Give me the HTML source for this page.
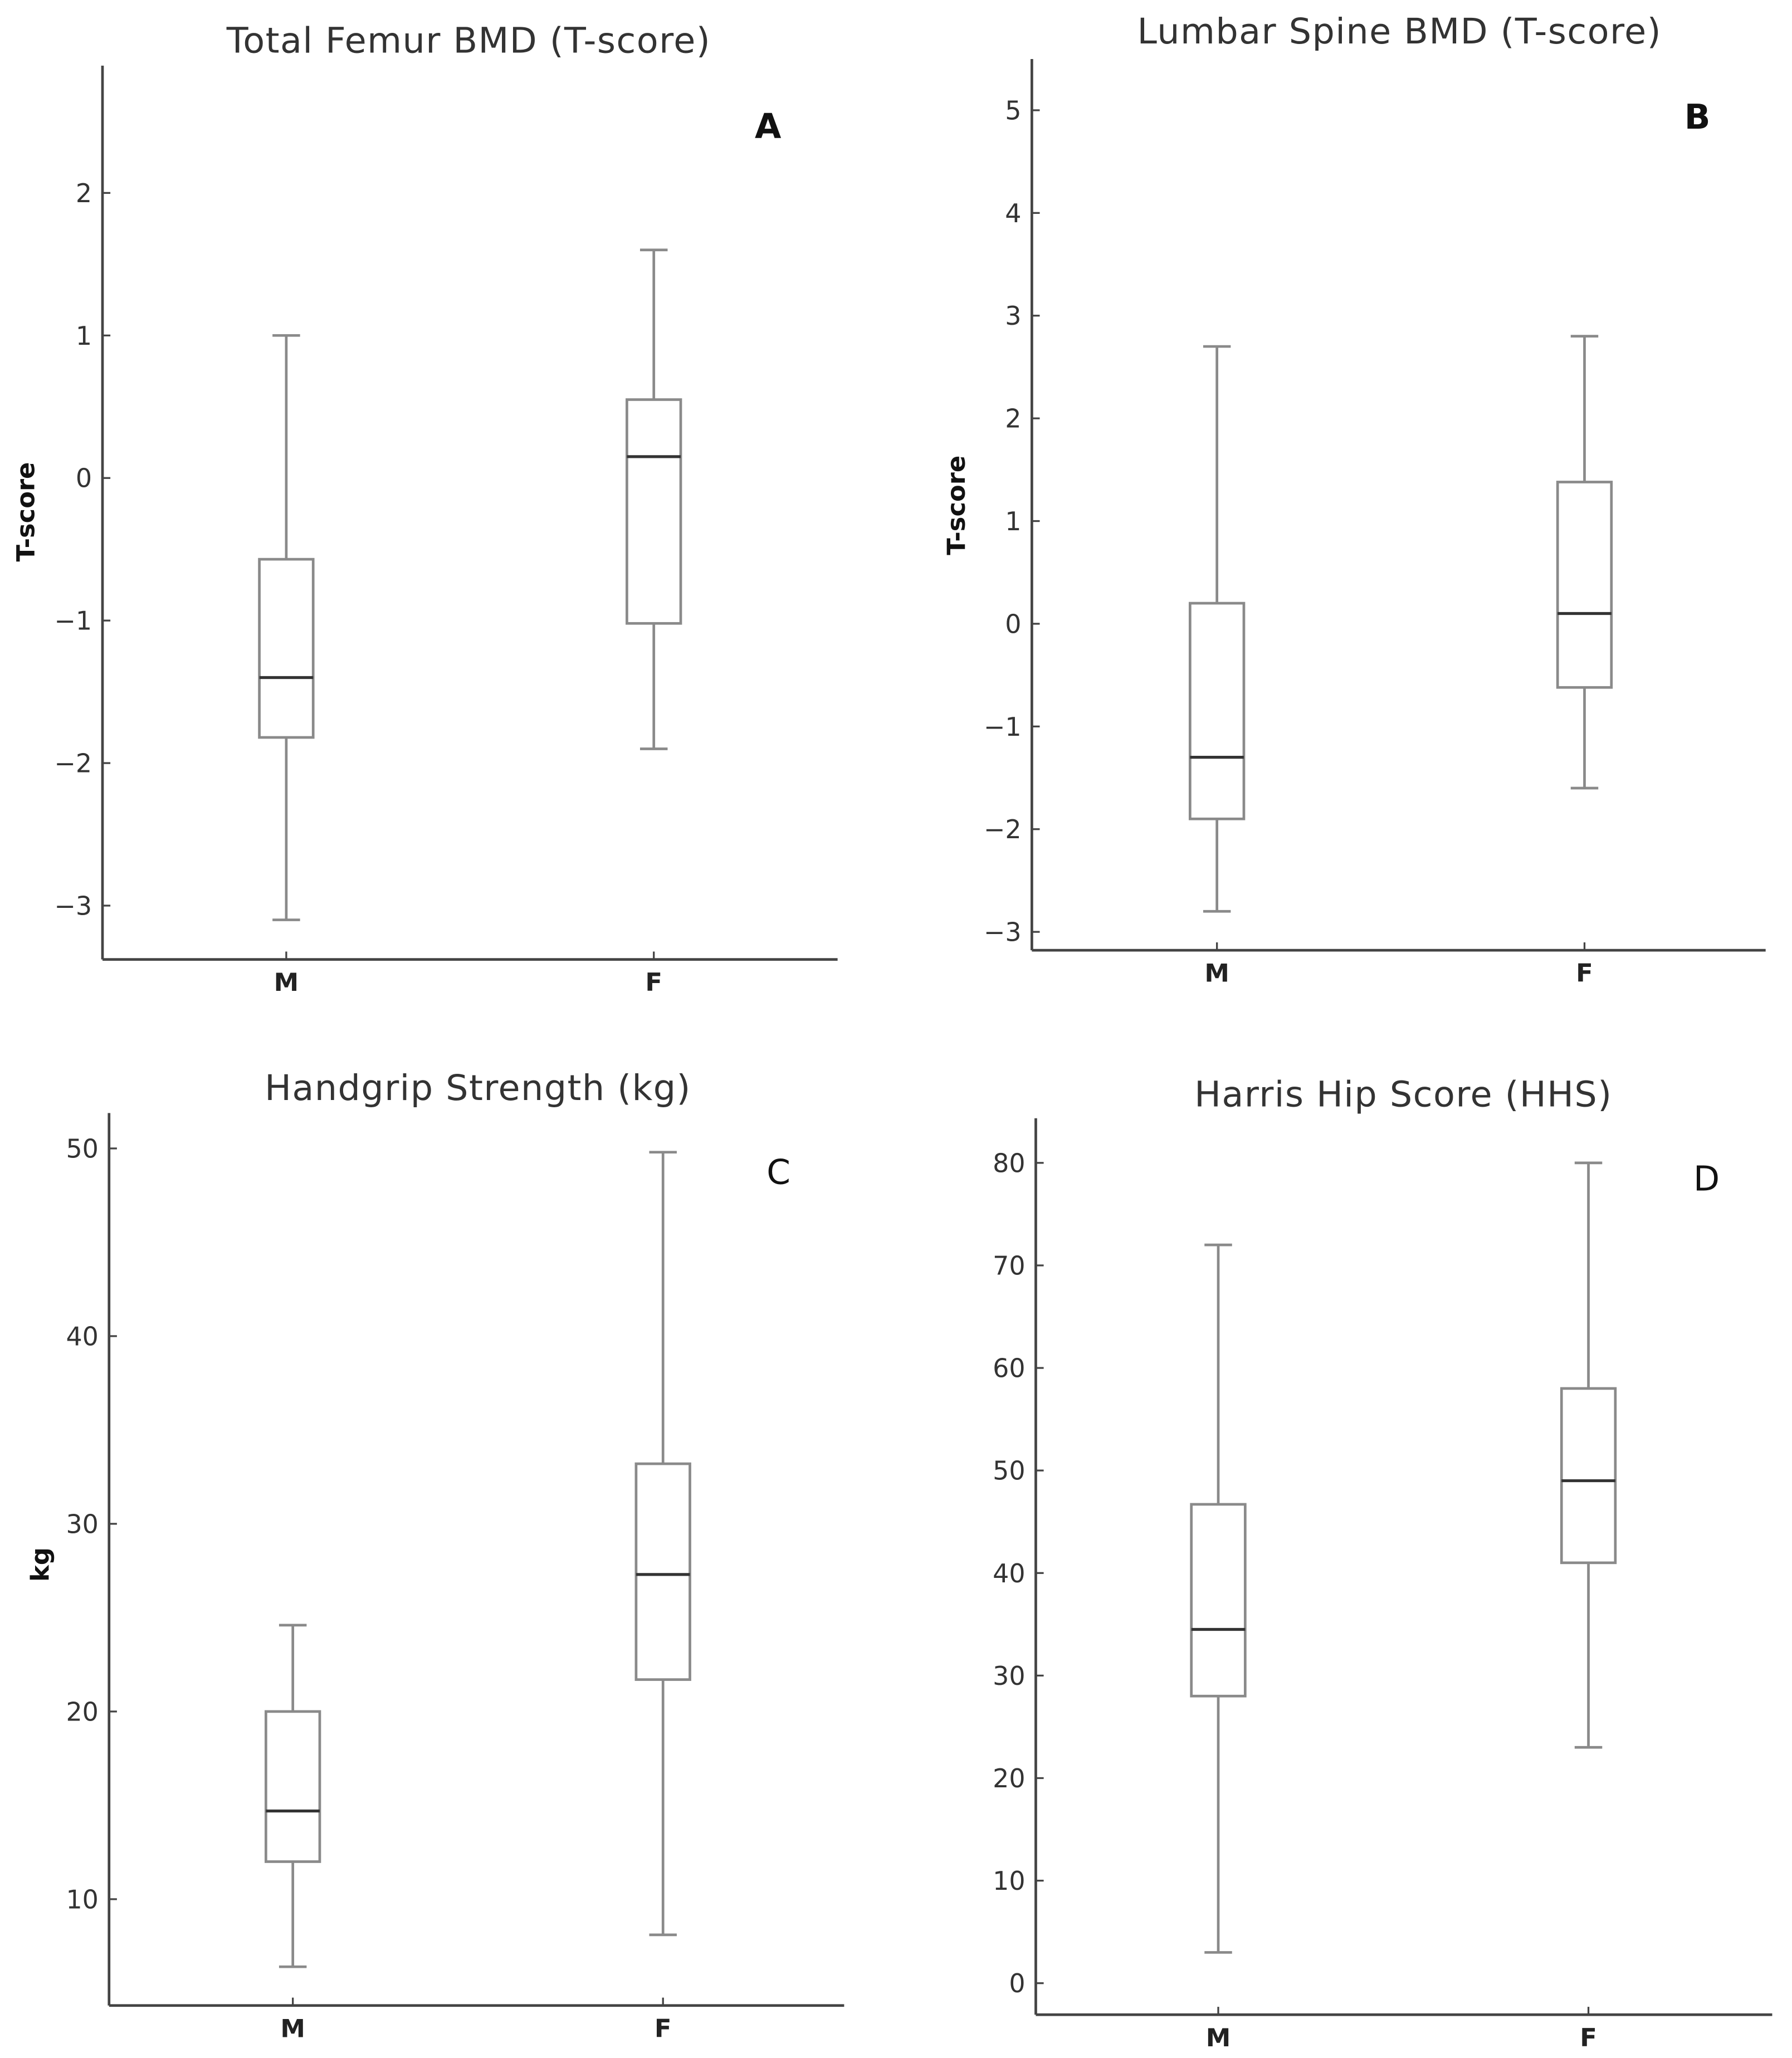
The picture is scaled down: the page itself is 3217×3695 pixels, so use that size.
<!DOCTYPE html>
<html><head><meta charset="utf-8"><style>
html,body{margin:0;padding:0;background:#fff;}
svg{display:block;font-family:"DejaVu Sans","Liberation Sans",sans-serif;}
</style></head><body>
<svg id="fig" width="3217" height="3695" viewBox="0 0 1365 1568" xmlns="http://www.w3.org/2000/svg"></svg>
<script>
const categories = ["M", "F"];
// Panel A: Total Femur BMD
const aTicks = [-3, -2, -1, 0, 1, 2];
const aMin = [-3.1, -1.9], aQ1 = [-1.82, -1.02], aMed = [-1.4, 0.15], aQ3 = [-0.57, 0.55], aMax = [1.0, 1.6];
// Panel B: Lumbar Spine BMD
const bTicks = [-3, -2, -1, 0, 1, 2, 3, 4, 5];
const bMin = [-2.8, -1.6], bQ1 = [-1.9, -0.62], bMed = [-1.3, 0.1], bQ3 = [0.2, 1.38], bMax = [2.7, 2.8];
// Panel C: Handgrip Strength
const cTicks = [10, 20, 30, 40, 50];
const cMin = [6.4, 8.1], cQ1 = [12, 21.7], cMed = [14.7, 27.3], cQ3 = [20, 33.2], cMax = [24.6, 49.8];
// Panel D: Harris Hip Score
const dTicks = [0, 10, 20, 30, 40, 50, 60, 70, 80];
const dMin = [3, 23], dQ1 = [28, 41], dMed = [34.5, 49], dQ3 = [46.7, 58], dMax = [72, 80];

const NS = "http://www.w3.org/2000/svg";
const svg = document.getElementById('fig');
function mk(tag, attrs, parent, text) {
  const e = document.createElementNS(NS, tag);
  for (const k in attrs) e.setAttribute(k, attrs[k]);
  if (text !== undefined) e.textContent = text;
  parent.appendChild(e);
  return e;
}

function panel(cfg) {
  const g = mk('g', {}, svg);
  
  
  const y = v => cfg.y0px + (v - cfg.v0) * (cfg.y1px - cfg.y0px) / (cfg.v1 - cfg.v0);
  const x = i => cfg.cx[i];
  const ax = '#444', bx = '#8a8a8a', md = '#333', tx = '#333';
  const yAx = mk('line', {x1: cfg.ax, y1: cfg.top, x2: cfg.ax, y2: cfg.bot, stroke: ax, 'stroke-width': 2}, g);
  
  
  const xAx = mk('line', {x1: cfg.ax, y1: cfg.bot, x2: cfg.right, y2: cfg.bot, stroke: ax, 'stroke-width': 2}, g);
  
  
  cfg.ticks.forEach(t => {
    const yy = y(t);
    mk('line', {x1: cfg.ax, y1: yy, x2: cfg.ax + 6, y2: yy, stroke: ax, 'stroke-width': 1.4}, g);
    const lb = mk('text', {x: cfg.ax - 8, y: yy + 7, 'text-anchor': 'end', 'font-size': 19.5, fill: tx}, g, String(t).replace('-', '\u2212'));
    
    
  });
  categories.forEach((c, i) => {
    const cx = x(i);
    mk('line', {x1: cx, y1: cfg.bot, x2: cx, y2: cfg.bot - 6, stroke: ax, 'stroke-width': 1.4}, g);
    const lb = mk('text', {x: cx, y: cfg.bot + 24, 'text-anchor': 'middle', 'font-size': 19, 'font-weight': 'bold', fill: '#222'}, g, c);
    
    
    const bg = mk('g', {}, g);
    
    
    const hw = 20.5, cw = 10.5;
    mk('line', {x1: cx, y1: y(cfg.min[i]), x2: cx, y2: y(cfg.q1[i]), stroke: bx, 'stroke-width': 2}, bg);
    mk('line', {x1: cx, y1: y(cfg.q3[i]), x2: cx, y2: y(cfg.max[i]), stroke: bx, 'stroke-width': 2}, bg);
    mk('line', {x1: cx - cw, y1: y(cfg.min[i]), x2: cx + cw, y2: y(cfg.min[i]), stroke: bx, 'stroke-width': 2}, bg);
    mk('line', {x1: cx - cw, y1: y(cfg.max[i]), x2: cx + cw, y2: y(cfg.max[i]), stroke: bx, 'stroke-width': 2}, bg);
    mk('rect', {x: cx - hw, y: y(cfg.q3[i]), width: 2 * hw, height: y(cfg.q1[i]) - y(cfg.q3[i]), fill: 'none', stroke: bx, 'stroke-width': 2}, bg);
    mk('line', {x1: cx - hw, y1: y(cfg.med[i]), x2: cx + hw, y2: y(cfg.med[i]), stroke: md, 'stroke-width': 2.2}, bg);
  });
  const t = mk('text', {x: cfg.tx, y: cfg.ty, 'text-anchor': 'middle', 'font-size': 27, 'letter-spacing': 0.6, fill: '#333'}, g, cfg.title);
  
  
  const L = mk('text', {x: cfg.lx, y: cfg.ly, 'text-anchor': 'middle', 'font-size': 26, 'font-weight': cfg.lw, fill: '#111'}, g, cfg.letter);
  
  
  const yl = mk('text', {x: cfg.ylx, y: cfg.yly, 'text-anchor': 'middle', 'font-size': 19, 'font-weight': 'bold', fill: '#111', transform: 'rotate(-90 ' + cfg.ylx + ' ' + cfg.yly + ')'}, g, cfg.ylabel);
  
  
}

panel({name: 'panel-a-total-femur', ticks: aTicks, min: aMin, q1: aQ1, med: aMed, q3: aQ3, max: aMax,
  v0: 2, y0px: 147, v1: -3, y1px: 690, ax: 78, top: 50, bot: 731, right: 638, cx: [218, 498],
  title: 'Total Femur BMD (T-score)', tx: 357, ty: 40, letter: 'A', lw: 'bold', lx: 585, ly: 105, ylabel: 'T-score', ylx: 26, yly: 390});
panel({name: 'panel-b-lumbar-spine', ticks: bTicks, min: bMin, q1: bQ1, med: bMed, q3: bQ3, max: bMax,
  v0: 5, y0px: 84, v1: -3, y1px: 710, ax: 786, top: 45, bot: 724, right: 1345, cx: [927, 1207],
  title: 'Lumbar Spine BMD (T-score)', tx: 1066, ty: 33, letter: 'B', lw: 'bold', lx: 1293, ly: 98, ylabel: 'T-score', ylx: 735, yly: 385});
panel({name: 'panel-c-handgrip', ticks: cTicks, min: cMin, q1: cQ1, med: cMed, q3: cQ3, max: cMax,
  v0: 50, y0px: 875, v1: 10, y1px: 1447, ax: 83, top: 848, bot: 1528, right: 643, cx: [223, 505],
  title: 'Handgrip Strength (kg)', tx: 364, ty: 838, letter: 'C', lw: 'normal', lx: 593, ly: 902, ylabel: 'kg', ylx: 37, yly: 1192});
panel({name: 'panel-d-harris-hip', ticks: dTicks, min: dMin, q1: dQ1, med: dMed, q3: dQ3, max: dMax,
  v0: 80, y0px: 886, v1: 0, y1px: 1511, ax: 789, top: 852, bot: 1535, right: 1350, cx: [928, 1210],
  title: 'Harris Hip Score (HHS)', tx: 1069, ty: 843, letter: 'D', lw: 'normal', lx: 1300, ly: 907, ylabel: '', ylx: 740, yly: 1190});
</script>
</body></html>
